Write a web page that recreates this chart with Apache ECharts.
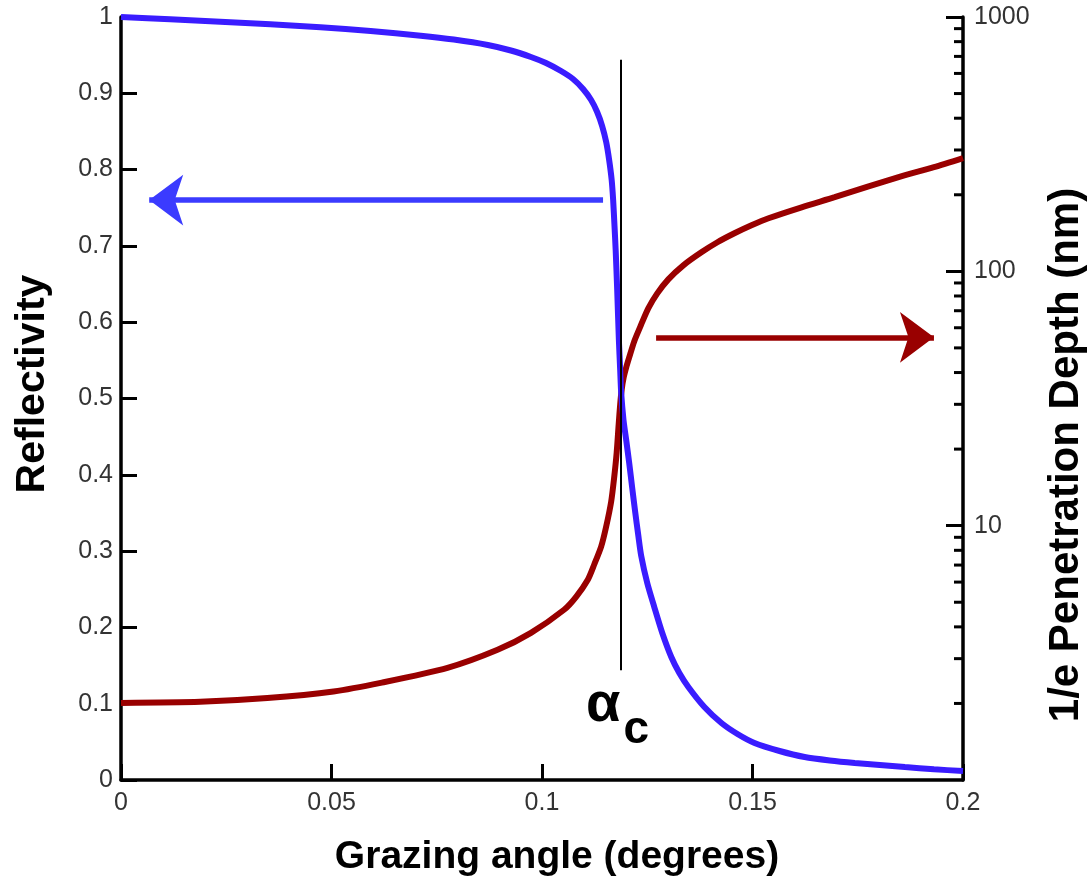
<!DOCTYPE html>
<html>
<head>
<meta charset="utf-8">
<script src="https://cdn.jsdelivr.net/npm/echarts@6/dist/echarts.min.js"></script>
<style>
  html, body { margin: 0; padding: 0; background: #fff; }
  #chart { width: 1090px; height: 882px; }
</style>
</head>
<body>
<div id="chart"></div>
<script>
// Grazing angle (degrees)
const angle = [0, 0.01167, 0.02357, 0.03548, 0.04738, 0.05929, 0.07119, 0.07905, 0.08714, 0.09262,
  0.09738, 0.10095, 0.10452, 0.10738, 0.10976, 0.11167, 0.11310, 0.11429, 0.11524, 0.11595,
  0.11655, 0.11690, 0.11721, 0.11750, 0.11786, 0.11826, 0.11857, 0.11881, 0.11936, 0.12000,
  0.12071, 0.12143, 0.12214, 0.12286, 0.12357, 0.12500, 0.12667, 0.12857, 0.13071, 0.13262,
  0.13476, 0.13857, 0.14262, 0.14643, 0.15048, 0.15643, 0.16238, 0.16833, 0.17429, 0.18024,
  0.18619, 0.19310, 0.2];
// Reflectivity at each angle
const reflectivity = [1.000, 0.997, 0.9938, 0.9904, 0.9865, 0.9817, 0.9755, 0.9704, 0.9633, 0.9561,
  0.9476, 0.9397, 0.9292, 0.9187, 0.9056, 0.8912, 0.8755, 0.8571, 0.8362, 0.8126,
  0.7864, 0.7602, 0.7274, 0.6946, 0.6422, 0.5767, 0.5374, 0.5072, 0.4718, 0.4456,
  0.4155, 0.3827, 0.3512, 0.3211, 0.2936, 0.2582, 0.2267, 0.1927, 0.1612, 0.1402,
  0.1219, 0.0957, 0.0747, 0.0603, 0.0485, 0.0380, 0.0301, 0.0256, 0.0223, 0.0197,
  0.0170, 0.0140, 0.0118];

// Grazing angle (degrees) for the penetration depth curve
const depthAngle = [0, 0.01881, 0.03476, 0.05048, 0.06167, 0.07755, 0.08945, 0.09738, 0.10524, 0.10810,
  0.11088, 0.11238, 0.11405, 0.11524, 0.11643, 0.11714, 0.11774, 0.11821, 0.11857, 0.11893,
  0.11940, 0.12000, 0.12071, 0.12190, 0.12357, 0.12524, 0.12738, 0.13000, 0.13357, 0.13786,
  0.14167, 0.14571, 0.14976, 0.15381, 0.16167, 0.16952, 0.17738, 0.18548, 0.19310, 0.2];
// 1/e penetration depth (nm)
const depth = [2.01, 2.03, 2.10, 2.23, 2.41, 2.76, 3.25, 3.79, 4.67, 5.25,
  6.13, 7.02, 8.27, 9.91, 12.43, 15.45, 19.39, 24.98, 29.95, 34.31,
  38.25, 41.88, 45.86, 53.02, 61.83, 71.5, 81.9, 93.0, 105.6, 118.8,
  130.1, 141.1, 151.7, 161.7, 178.6, 195.6, 215.2, 236.6, 256.7, 278.5];

// Axis ticks
const angleTicks = [0, 0.05, 0.1, 0.15, 0.2];
const reflectivityTicks = [0, 0.1, 0.2, 0.3, 0.4, 0.5, 0.6, 0.7, 0.8, 0.9, 1];
const depthTicks = [1, 10, 100, 1000];
const depthMinorTicks = [2, 3, 4, 5, 6, 7, 8, 9, 20, 30, 40, 50, 60, 70, 80, 90,
  200, 300, 400, 500, 600, 700, 800, 900];

// Critical angle marker and the two pointer arrows
const criticalAngle = 0.1188;
const criticalSpan = [0.144, 0.944];        // reflectivity units
const reflArrow = { from: 0.1145, to: 0.0067, at: 0.760 };   // reflectivity units
const depthArrow = { from: 0.1271, to: 0.1931, at: 55 };     // depth units (nm)

const BLUE = '#3a1cff';
const BLUE_ARROW = '#3b3bff';
const RED = '#990000';
const LABEL_FONT = '"Liberation Sans", Arial, Helvetica, sans-serif';

const chart = echarts.init(document.getElementById('chart'), null, { renderer: 'canvas' });

const axisLineStyle = { color: '#000', width: 3.5 };
const tickLabel = { color: '#333', fontSize: 25, fontFamily: LABEL_FONT };
const fmt = v => String(+(+v).toFixed(3));

const option = {
  animation: false,
  backgroundColor: '#fff',
  grid: { left: 121, right: 127, top: 17, bottom: 102, containLabel: false },
  xAxis: {
    type: 'value',
    min: angleTicks[0],
    max: angleTicks[angleTicks.length - 1],
    interval: angleTicks[1] - angleTicks[0],
    axisLine: { lineStyle: axisLineStyle },
    axisTick: { inside: true, length: 16, lineStyle: { color: '#000', width: 3 } },
    axisLabel: Object.assign({ margin: 11, formatter: fmt }, tickLabel),
    splitLine: { show: false }
  },
  yAxis: [
    {
      type: 'value',
      position: 'left',
      min: reflectivityTicks[0],
      max: reflectivityTicks[reflectivityTicks.length - 1],
      interval: reflectivityTicks[1] - reflectivityTicks[0],
      axisLine: { show: true, onZero: false, lineStyle: axisLineStyle },
      axisTick: { show: true, inside: true, length: 16, lineStyle: { color: '#000', width: 3 } },
      axisLabel: Object.assign({ margin: 8, formatter: fmt }, tickLabel),
      splitLine: { show: false }
    },
    {
      type: 'log',
      logBase: 10,
      position: 'right',
      min: depthTicks[0],
      max: depthTicks[depthTicks.length - 1],
      axisLine: { show: true, onZero: false, lineStyle: axisLineStyle },
      axisTick: { show: true, inside: true, length: 17, lineStyle: { color: '#000', width: 3 } },
      axisLabel: Object.assign({ margin: 11, showMinLabel: false, formatter: v => String(Math.round(v)) }, tickLabel),
      splitLine: { show: false }
    }
  ],
  series: [
    {
      name: 'Reflectivity',
      type: 'line',
      xAxisIndex: 0,
      yAxisIndex: 0,
      data: angle.map((a, i) => [a, reflectivity[i]]),
      showSymbol: false,
      smooth: 0.25,
      lineStyle: { color: BLUE, width: 6 },
      z: 3,
      markLine: {
        silent: true,
        animation: false,
        label: { show: false },
        data: [
          [
            { coord: [reflArrow.from, reflArrow.at], symbol: 'none',
              lineStyle: { color: BLUE_ARROW, width: 5.5, type: 'solid' } },
            { coord: [reflArrow.to, reflArrow.at], symbol: 'arrow', symbolSize: [38, 34] }
          ],
          [
            { coord: [criticalAngle, criticalSpan[0]], symbol: 'none',
              lineStyle: { color: '#000', width: 2, type: 'solid' } },
            { coord: [criticalAngle, criticalSpan[1]], symbol: 'none' }
          ]
        ]
      }
    },
    {
      name: '1/e Penetration Depth',
      type: 'line',
      xAxisIndex: 0,
      yAxisIndex: 1,
      data: depthAngle.map((a, i) => [a, depth[i]]),
      showSymbol: false,
      smooth: 0.25,
      lineStyle: { color: RED, width: 6 },
      z: 2,
      markLine: {
        silent: true,
        animation: false,
        label: { show: false },
        data: [
          [
            { coord: [depthArrow.from, depthArrow.at], symbol: 'none',
              lineStyle: { color: RED, width: 5.5, type: 'solid' } },
            { coord: [depthArrow.to, depthArrow.at], symbol: 'arrow', symbolSize: [38, 34] }
          ]
        ]
      }
    },
    {
      // minor ticks of the logarithmic depth axis (2..9 of each decade)
      name: 'depth minor ticks',
      type: 'custom',
      xAxisIndex: 0,
      yAxisIndex: 1,
      silent: true,
      clip: false,
      data: depthMinorTicks.map(v => [angleTicks[angleTicks.length - 1], v]),
      encode: { x: 0, y: 1 },
      renderItem: (params, api) => {
        const p = api.coord([api.value(0), api.value(1)]);
        return {
          type: 'line',
          shape: { x1: p[0] - 9, y1: p[1], x2: p[0], y2: p[1] },
          style: { stroke: '#000', lineWidth: 3 }
        };
      },
      z: 5
    }
  ],
  graphic: [
    {
      type: 'text', x: 33, y: 384, rotation: Math.PI / 2,
      style: { text: 'Reflectivity', font: 'bold 41px ' + LABEL_FONT, fill: '#000',
        textAlign: 'center', textVerticalAlign: 'middle' }
    },
    {
      type: 'text', x: 1066, y: 455, rotation: Math.PI / 2,
      style: { text: '1/e Penetration Depth (nm)', font: 'bold 42px ' + LABEL_FONT, fill: '#000',
        textAlign: 'center', textVerticalAlign: 'middle' }
    },
    {
      type: 'text', x: 557, y: 857,
      style: { text: 'Grazing angle (degrees)', font: 'bold 39px ' + LABEL_FONT, fill: '#000',
        textAlign: 'center', textVerticalAlign: 'middle' }
    },
    {
      type: 'text', x: 586, y: 678,
      style: {
        text: '{a|α}{c|c}',
        rich: {
          a: { fontSize: 56, fontWeight: 'bold', fontFamily: LABEL_FONT, fill: '#000', verticalAlign: 'bottom', lineHeight: 56 },
          c: { fontSize: 46, fontWeight: 'bold', fontFamily: LABEL_FONT, fill: '#000', verticalAlign: 'bottom', padding: [0, 0, -19, 3] }
        }
      }
    }
  ]
};

chart.setOption(option);
</script>
</body>
</html>
